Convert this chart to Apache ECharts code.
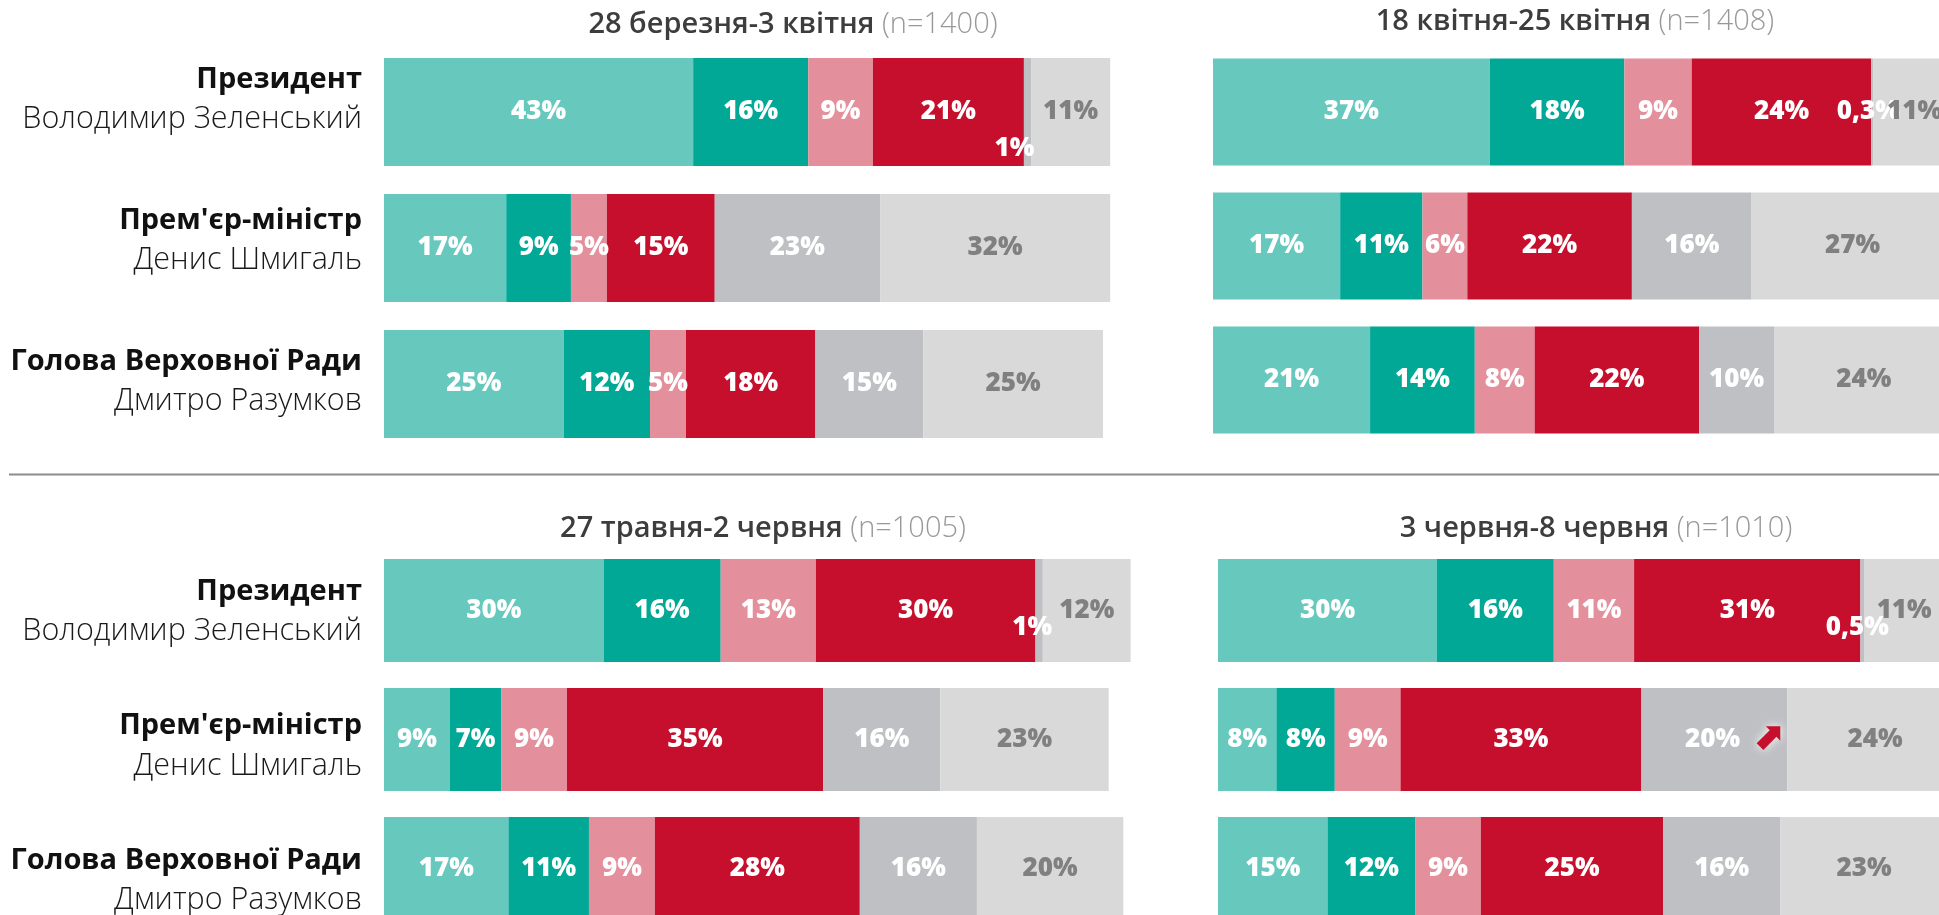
<!DOCTYPE html>
<html>
<head>
<meta charset="utf-8">
<script src="https://cdn.jsdelivr.net/npm/echarts@6/dist/echarts.min.js"></script>
<style>
  html, body { margin: 0; padding: 0; background: #fff; }
  #chart { width: 1939px; height: 915px; }
</style>
</head>
<body>
<div id="chart"></div>
<script>
// опитування: періоди та розмір вибірки
const periods = ['28 березня-3 квітня', '18 квітня-25 квітня', '27 травня-2 червня', '3 червня-8 червня']
const sampleSizes = [1400, 1408, 1005, 1010]
const positions = ['Президент', "Прем'єр-міністр", 'Голова Верховної Ради']
const persons = ['Володимир Зеленський', 'Денис Шмигаль', 'Дмитро Разумков']

// по одному рядку на період: [Президент, Прем'єр, Голова ВР]
const fullyApprove = [[43, 17, 25], [37, 17, 21], [30, 9, 17], [30, 8, 15]]
const ratherApprove = [[16, 9, 12], [18, 11, 14], [16, 7, 11], [16, 8, 12]]
const ratherDisapprove = [[9, 5, 5], [9, 6, 8], [13, 9, 9], [11, 9, 9]]
const fullyDisapprove = [[21, 15, 18], [24, 22, 22], [30, 35, 28], [31, 33, 25]]
const dontKnowPerson = [[1, 23, 15], [0.3, 16, 10], [1, 16, 16], [0.5, 20, 16]]
const hardToSay = [[11, 32, 25], [11, 27, 24], [12, 23, 20], [11, 24, 23]]

// стрілка зростання біля значення (період, рядок, сегмент)
const risingMark = { period: 3, row: 1, segment: 4 }

const segments = [fullyApprove, ratherApprove, ratherDisapprove, fullyDisapprove, dontKnowPerson, hardToSay]
const colors = ['#67c9be', '#02a896', '#e4909c', '#c50f2c', '#bfc0c4', '#d9d9d9']
const labelColors = ['#fff', '#fff', '#fff', '#fff', '#fff', '#808080']

// розміщення чотирьох панелей (px)
const boxes = [
  { left: 384, top: 44, width: 719, height: 408, bar: 108 },
  { left: 1213, top: 45, width: 748, height: 402, bar: 107 },
  { left: 384, top: 546, width: 732, height: 387, bar: 103 },
  { left: 1218, top: 546, width: 730, height: 387, bar: 103 }
]
// підписи рядків мають власний крок, трохи більший за крок смуг
const labelBoxes = [
  { top: 29, height: 423 },
  { top: 544, height: 404 }
]
const titlePos = [[793, 25], [1575, 22], [763, 529], [1596, 529]]
const sliverOffsets = [[-13, 37], [-4, 0], [-7, 17], [-5, 17]]

const valueFont = '"Open Sans", Lato, sans-serif'
const textFont = '"Open Sans", "Noto Sans", sans-serif'

const fmt = v => String(v).replace('.', ',') + '%'

const grid = boxes.map(b => ({
  left: b.left, top: b.top, width: b.width, height: b.height,
  outerBoundsMode: 'none', containLabel: false
}))
labelBoxes.forEach(b => grid.push({
  left: 384, top: b.top, width: 100, height: b.height,
  outerBoundsMode: 'none', containLabel: false
}))

const xAxis = grid.map((g, i) => ({ type: 'value', gridIndex: i, min: 0, max: 100, show: false }))
const yAxis = grid.map((g, i) => {
  const isLabels = i >= boxes.length
  return {
    type: 'category',
    gridIndex: i,
    inverse: true,
    data: positions,
    axisLine: { show: false },
    axisTick: { show: false },
    splitLine: { show: false },
    axisLabel: {
      show: isLabels,
      margin: 22,
      formatter: (v, idx) => `{b|${positions[idx]}}\n{n|${persons[idx]}}`,
      rich: {
        b: { fontFamily: textFont, fontSize: 29, fontWeight: 'bold', color: '#111', lineHeight: 40, align: 'right' },
        n: { fontFamily: textFont, fontSize: 30.5, fontWeight: 300, color: '#1a1a1a', lineHeight: 40, align: 'right' }
      }
    }
  }
})

const series = []
boxes.forEach((b, p) => {
  segments.forEach((seg, s) => {
    series.push({
      type: 'bar',
      stack: 'panel' + p,
      xAxisIndex: p,
      yAxisIndex: p,
      barWidth: b.bar,
      clip: false,
      itemStyle: { color: colors[s] },
      silent: true,
      label: {
        show: true,
        position: 'inside',
        color: labelColors[s],
        fontFamily: valueFont,
        fontSize: 26,
        fontWeight: 800,
        formatter: prm => fmt(prm.value)
      },
      data: seg[p].map((v, r) => {
        if (v < 2) {
          return { value: v, label: { offset: sliverOffsets[p] } }
        }
        if (p === risingMark.period && r === risingMark.row && s === risingMark.segment) {
          return {
            value: v,
            label: {
              offset: [20, 0],
              formatter: prm => `{v|${fmt(prm.value)}}{a|⬈}`,
              rich: {
                v: { color: '#fff', fontFamily: valueFont, fontSize: 26, fontWeight: 800, padding: [0, 12, 0, 0] },
                a: { color: '#c50f2c', fontFamily: 'DejaVu Sans', fontSize: 38, textShadowColor: '#fff', textShadowBlur: 10 }
              }
            }
          }
        }
        return v
      })
    })
  })
})

const graphic = periods.map((name, i) => ({
  type: 'text',
  x: titlePos[i][0],
  y: titlePos[i][1],
  silent: true,
  style: {
    text: `{b|${name}}{n| (n=${sampleSizes[i]})}`,
    align: 'center',
    verticalAlign: 'middle',
    rich: {
      b: { fontFamily: textFont, fontSize: 29, fontWeight: 600, fill: '#3d3d3d' },
      n: { fontFamily: textFont, fontSize: 29, fontWeight: 300, fill: '#999' }
    }
  }
}))
graphic.push({
  type: 'line',
  silent: true,
  shape: { x1: 9, y1: 474.5, x2: 1939, y2: 474.5 },
  style: { stroke: '#8c8c8c', lineWidth: 2 }
})

const chart = echarts.init(document.getElementById('chart'))
chart.setOption({
  backgroundColor: '#fff',
  animation: false,
  grid,
  xAxis,
  yAxis,
  series,
  graphic
})
</script>
</body>
</html>
